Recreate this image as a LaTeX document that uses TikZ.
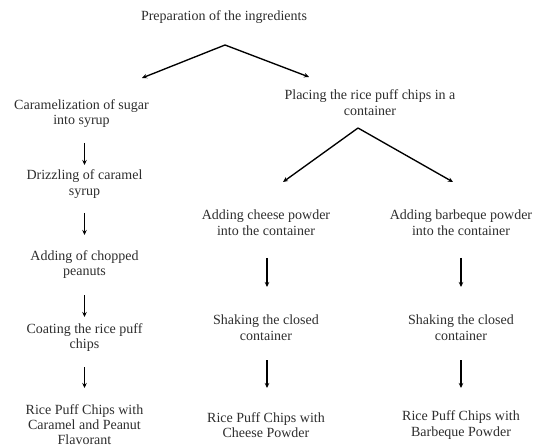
\documentclass[tikz,border=0pt]{standalone}
\usepackage{fontspec}
\setmainfont{Liberation Serif}
\usetikzlibrary{arrows.meta}
\begin{document}
\begin{tikzpicture}[x=1pt,y=-1pt,
  txt/.style={align=center, inner sep=0pt, text=black!82, font=\fontsize{14}{15.5}\selectfont},
  arr/.style={line width=1.35pt, -{Stealth[length=5pt,width=4.5pt]}},
]
\useasboundingbox[fill=white] (0,0) rectangle (535,446);

% texts
\node[txt] (title)  at (224,17)    {Preparation of the ingredients};
\node[txt] (cara)   at (81.5,113.5) {Caramelization of sugar\\into syrup};
\node[txt] (place)  at (370,102.5) {Placing the rice puff chips in a\\container};
\node[txt] (drizz)  at (84.5,184)  {Drizzling of caramel\\syrup};
\node[txt] (chop)   at (84.5,264.5){Adding of chopped\\peanuts};
\node[txt] (coat)   at (84.5,337.5){Coating the rice puff\\chips};
\node[txt,font=\fontsize{14}{14.8}\selectfont] (finA) at (84.5,424.5) {Rice Puff Chips with\\Caramel and Peanut\\Flavorant};
\node[txt] (cheese) at (266,222.5) {Adding cheese powder\\into the container};
\node[txt] (bbq)    at (461,222.5) {Adding barbeque powder\\into the container};
\node[txt] (shakeC) at (266,327.5) {Shaking the closed\\container};
\node[txt] (shakeB) at (461,327.5) {Shaking the closed\\container};
\node[txt] (finC)   at (266,425)   {Rice Puff Chips with\\Cheese Powder};
\node[txt] (finB)   at (461,425)   {Rice Puff Chips with\\Barbeque Powder};

% branch points
\coordinate (apexA) at (225,45);
\coordinate (endA1) at (142,78);
\coordinate (endA2) at (309,77);
\coordinate (apexB) at (358,128);
\coordinate (endB1) at (283,182);
\coordinate (endB2) at (453,182);

\draw[arr] (apexA) -- (endA1);
\draw[arr] (apexA) -- (endA2);
\draw[arr] (apexB) -- (endB1);
\draw[arr] (apexB) -- (endB2);

% left column
\draw[arr, shorten <=29.5pt, shorten >=19pt]   (drizz.center |- cara.center) -- (drizz.center);
\draw[arr, shorten <=29pt, shorten >=29.5pt]   (drizz.center) -- (chop.center);
\draw[arr, shorten <=30.5pt, shorten >=20.5pt] (chop.center) -- (coat.center);
\draw[arr, shorten <=29.5pt, shorten >=36.5pt] (coat.center) -- (finA.center);

% cheese column
\draw[arr, shorten <=35.5pt, shorten >=40.5pt] ([xshift=1pt]cheese.center) -- ([xshift=1pt]shakeC.center);
\draw[arr, shorten <=32.5pt, shorten >=37pt]   ([xshift=1pt]shakeC.center) -- ([xshift=1pt]finC.center);

% barbeque column
\draw[arr, shorten <=35.5pt, shorten >=40.5pt] (bbq.center) -- (shakeB.center);
\draw[arr, shorten <=32.5pt, shorten >=37pt]   (shakeB.center) -- (finB.center);
\end{tikzpicture}
\end{document}
